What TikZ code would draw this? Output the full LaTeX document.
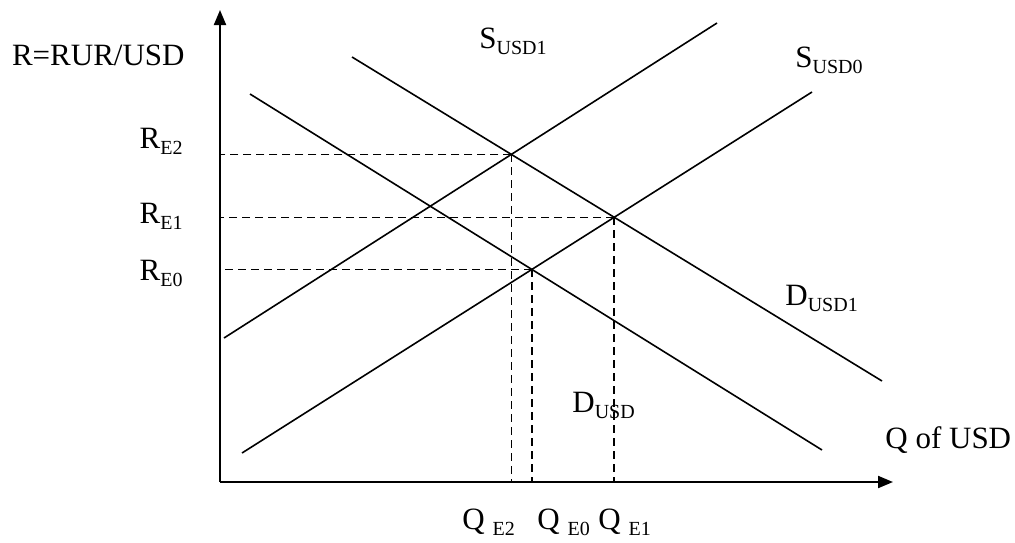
\documentclass[tikz,border=0pt]{standalone}
\usepackage{fontspec}
\setmainfont{Liberation Serif}
\usetikzlibrary{arrows.meta}

\newcommand{\subtx}[1]{\raisebox{-0.45ex}{\fontsize{10}{12}\selectfont #1}}

\begin{document}
\begin{tikzpicture}[x=0.5pt,y=-0.5pt,
  axis/.style={line width=1pt,-{Triangle[length=7.5pt,width=6pt]}},
  curve/.style={line width=0.8pt},
  guide/.style={line width=0.75pt,dash pattern=on 4pt off 2.5pt},
  lbl/.style={inner sep=0pt,font=\fontsize{15.5}{18}\selectfont}]
\useasboundingbox (0,0) rectangle (1015,542);
% axes
\coordinate (O) at (220,482);
\coordinate (ytip) at (220,10);
\coordinate (xtip) at (893,482);
\draw[axis] (O) -- (ytip);
\draw[axis] (O) -- (xtip);
% supply and demand lines
\coordinate (s0a) at (242,453);
\coordinate (s0b) at (812,92);
\coordinate (s1a) at (224,338);
\coordinate (s1b) at (717,23);
\coordinate (d1a) at (352,57);
\coordinate (d1b) at (882,381);
\coordinate (da) at (250,94);
\coordinate (db) at (822,450);
\draw[curve] (s0a) -- (s0b);
\draw[curve] (s1a) -- (s1b);
\draw[curve] (d1a) -- (d1b);
\draw[curve] (da) -- (db);
% equilibria
\coordinate (E0) at (intersection of s0a--s0b and da--db);
\coordinate (E1) at (intersection of s0a--s0b and d1a--d1b);
\coordinate (E2) at (intersection of s1a--s1b and d1a--d1b);
\foreach \e in {E0,E1,E2}{
  \draw[guide] (\e) -- (\e -| O);
  \draw[guide] (\e) -- (\e |- O);}
% labels
\node[lbl,anchor=base east] (rlab) at (185,65) {R=RUR/USD};
\node[lbl,anchor=base east] (re2) at (183,148) {R\subtx{E2}};
\node[lbl,anchor=base east] (re1) at (183,223) {R\subtx{E1}};
\node[lbl,anchor=base east] (re0) at (183,280) {R\subtx{E0}};
\node[lbl,anchor=base west] (qe2) at (462,529) {Q \subtx{E2}};
\node[lbl,anchor=base west] (qe0) at (537,529) {Q \subtx{E0}};
\node[lbl,anchor=base west] (qe1) at (598,529) {Q \subtx{E1}};
\node[lbl,anchor=base west] (qlab) at (885,448) {Q of USD};
\node[lbl,anchor=base west] (su1) at (479,48) {S\subtx{USD1}};
\node[lbl,anchor=base west] (su0) at (795,67) {S\subtx{USD0}};
\node[lbl,anchor=base west] (du1) at (785,305) {D\subtx{USD1}};
\node[lbl,anchor=base west] (du) at (572,412) {D\subtx{USD}};
\end{tikzpicture}
\end{document}
